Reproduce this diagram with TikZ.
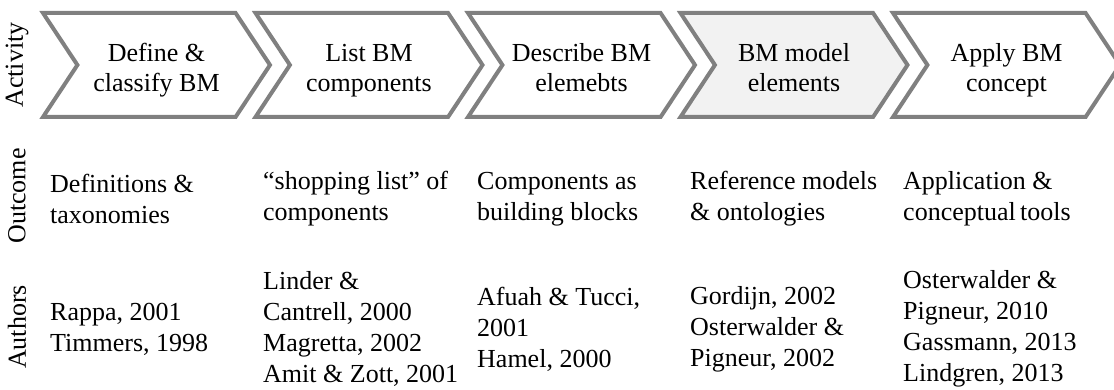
\documentclass[tikz,border=0pt]{standalone}
\usepackage{fontspec}
\setmainfont{Liberation Serif}
\usetikzlibrary{shapes.symbols, positioning}
\definecolor{chevgray}{HTML}{808080}
\definecolor{chevfill}{HTML}{F2F2F2}

\begin{document}
\begin{tikzpicture}[
        x=1pt, y=1pt,
        font=\fontsize{26}{30}\selectfont,
        activity/.style={signal, signal to=east, signal from=west, signal pointer angle=113, draw=chevgray, line width=4pt, fill=white, align=center, inner sep=0pt, text height=59pt, text depth=6pt, minimum width=227pt, minimum height=104pt},
        current/.style={activity, fill=chevfill},
        rowlabel/.style={rotate=90, inner sep=0pt},
        cell/.style={anchor=west, align=left, inner sep=0pt, font=\fontsize{26}{31}\selectfont}
    ]
        \clip (0,0) rectangle (1114,389);

        % row labels
        \node (lblact) [rowlabel] at (17,324) {Activity};
        \node (lblout) [rowlabel] at (17,193) {Outcome};
        \node (lblauth) [rowlabel] at (17,62) {Authors};

        % activities
        \node (act1) [activity] at (156.5,324) {Define \&\\classify BM};
        \node (act2) [activity] at (369,324) {List BM\\components};
        \node (act3) [activity] at (581.5,324) {Describe BM\\elemebts};
        \node (act4) [current] at (794,324) {BM model\\elements};
        \node (act5) [activity] at (1006.5,324) {Apply BM\\concept};

        % outcomes
        \node (out1) [cell] at (50,190) {Definitions \&\\taxonomies};
        \node (out2) [cell] at (263,190) {``shopping list'' of\\components};
        \node (out3) [cell] at (477,190) {Components as\\building blocks};
        \node (out4) [cell] at (690,190) {Reference models\\\& ontologies};
        \node (out5) [cell] at (903,190) {Application \&\\conceptual\,tools};

        % authors
        \node (auth1) [cell] at (50,60) {Rappa, 2001\\Timmers, 1998};
        \node (auth2) [cell] at (263,60) {Linder \&\\Cantrell, 2000\\Magretta, 2002\\Amit \& Zott, 2001};
        \node (auth3) [cell] at (477,60) {Afuah \& Tucci,\\2001\\Hamel, 2000};
        \node (auth4) [cell] at (690,60) {Gordijn, 2002\\Osterwalder \&\\Pigneur, 2002};
        \node (auth5) [cell] at (903,60) {Osterwalder \&\\Pigneur, 2010\\Gassmann, 2013\\Lindgren, 2013};
    \end{tikzpicture}
\end{document}
